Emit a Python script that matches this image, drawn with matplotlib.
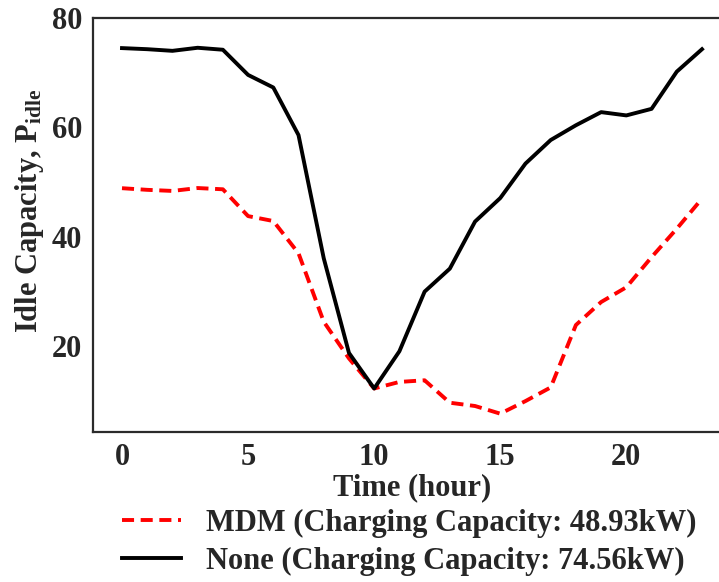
import matplotlib
matplotlib.use("Agg")
import matplotlib.pyplot as plt

# hourly idle capacity for the two strategies
hours = list(range(24))
idle_mdm = [48.9, 48.6, 48.4, 48.93, 48.7, 43.8, 42.9, 37.0, 24.5, 17.8, 12.3, 13.5,
            13.8, 9.7, 9.1, 7.7, 10.0, 12.5, 23.9, 28.1, 30.8, 36.3, 41.5, 47.0]
idle_none = [74.5, 74.3, 74.0, 74.56, 74.2, 69.6, 67.3, 58.6, 36.1, 18.8, 12.3, 19.1,
             30.0, 34.2, 42.8, 47.1, 53.4, 57.7, 60.4, 62.8, 62.2, 63.4, 70.2, 74.3]
labels = ["MDM (Charging Capacity: 48.93kW)", "None (Charging Capacity: 74.56kW)"]

txt = '#262626'
plt.rcParams['font.family'] = ['Liberation Serif', 'DejaVu Serif']
plt.rcParams['font.weight'] = 'bold'
plt.rcParams['text.color'] = txt
plt.rcParams['axes.labelcolor'] = txt
plt.rcParams['xtick.color'] = txt
plt.rcParams['ytick.color'] = txt
plt.rcParams['mathtext.fontset'] = 'custom'
plt.rcParams['mathtext.rm'] = 'Liberation Serif:bold'
plt.rcParams['mathtext.bf'] = 'Liberation Serif:bold'
plt.rcParams['mathtext.it'] = 'Liberation Serif:bold'

fs = 22
fig = plt.figure(figsize=(7.19, 5.82), dpi=100)
ax = fig.add_axes([93 / 719, 1 - 432 / 582, (731 - 93) / 719, (432 - 18) / 582])

ax.plot(hours, idle_mdm, color='red', linestyle=(0, (3.1, 1.7)), linewidth=2.8, label=labels[0])
ax.plot(hours, idle_none, color='black', linewidth=2.8, label=labels[1])

ax.set_xlim(-1.15, 24.15)
ax.set_ylim(4.35, 80)
ax.set_xticks([0, 5, 10, 15, 20])
ax.set_yticks([20, 40, 60, 80])
ax.tick_params(length=0, labelsize=fs, pad=8)
for t in ax.get_xticklabels() + ax.get_yticklabels():
    t.set_fontweight('bold')

for s in ax.spines.values():
    s.set_color('#2b2b2b')
    s.set_linewidth(1.6)

ax.set_xlabel('Time (hour)', fontsize=fs, fontweight='bold', labelpad=1)
ax.set_ylabel(r'Idle Capacity, $\mathbf{P_{idle}}$', fontsize=fs, fontweight='bold', labelpad=4)
ax.yaxis.label.set_y(0.534)

fig.legend(loc='lower left', bbox_to_anchor=(94 / 719, -0.037), frameon=False,
           handlelength=1.95, handletextpad=0.8, labelspacing=0.3,
           prop={'weight': 'bold', 'size': fs})

fig.savefig('out.png', dpi=100)
